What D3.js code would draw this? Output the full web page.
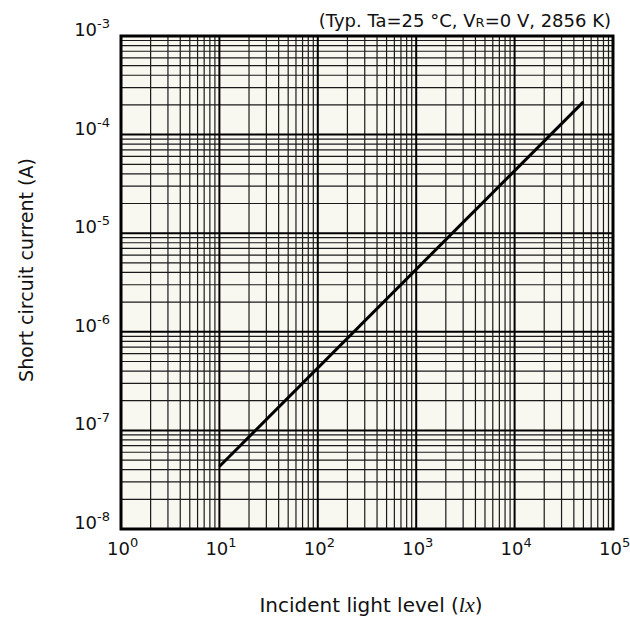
<!DOCTYPE html>
<html>
<head>
<meta charset="utf-8">
<script src="https://cdn.jsdelivr.net/npm/d3@7"></script>
<style>
  body { margin: 0; background: #fff; }
  text { font-family: "DejaVu Sans", Verdana, sans-serif; fill: #111; }
</style>
</head>
<body>
<svg id="chart" width="630" height="626"></svg>
<script>
// data
var lightLevel = [10, 50000];            // lx
var shortCurrent = [4.3e-8, 2.15e-4];    // A
var xDecades = [0, 1, 2, 3, 4, 5];
var yDecades = [-8, -7, -6, -5, -4, -3];
var titleText = "(Typ. Ta=25 °C, V";
var xLabel = "Incident light level (";
var yLabel = "Short circuit current (A)";

var margin = { top: 36, right: 17, bottom: 97, left: 121 }
var width = 630 - margin.left - margin.right
var height = 626 - margin.top - margin.bottom

var svg = d3.select("#chart")
var g = svg.append("g").attr("transform", "translate(" + margin.left + "," + margin.top + ")")

var xScale = d3.scaleLog().domain([1, 1e5]).range([0, width])
var yScale = d3.scaleLog().domain([1e-8, 1e-3]).range([height, 0])

g.append("rect").attr("width", width).attr("height", height).attr("fill", "#f8f7f0")

// minor grid: 2..9 in every decade
function minorTicks(decades) {
  var out = []
  for (var i = 0; i < decades.length - 1; i++) {
    for (var k = 2; k <= 9; k++) out.push(k * Math.pow(10, decades[i]))
  }
  return out
}

g.selectAll(".vminor").data(minorTicks(xDecades)).enter().append("line")
  .attr("x1", d => xScale(d)).attr("x2", d => xScale(d))
  .attr("y1", 0).attr("y2", height)
  .attr("stroke", "#1a1a1a").attr("stroke-width", 1.2)

g.selectAll(".hminor").data(minorTicks(yDecades)).enter().append("line")
  .attr("y1", d => yScale(d)).attr("y2", d => yScale(d))
  .attr("x1", 0).attr("x2", width)
  .attr("stroke", "#1a1a1a").attr("stroke-width", 1.2)

g.selectAll(".vmajor").data(xDecades).enter().append("line")
  .attr("x1", d => xScale(Math.pow(10, d))).attr("x2", d => xScale(Math.pow(10, d)))
  .attr("y1", 0).attr("y2", height)
  .attr("stroke", "#000").attr("stroke-width", 2)

g.selectAll(".hmajor").data(yDecades).enter().append("line")
  .attr("y1", d => yScale(Math.pow(10, d))).attr("y2", d => yScale(Math.pow(10, d)))
  .attr("x1", 0).attr("x2", width)
  .attr("stroke", "#000").attr("stroke-width", 2)

g.append("rect").attr("width", width).attr("height", height)
  .attr("fill", "none").attr("stroke", "#000").attr("stroke-width", 3)

// curve
var line = d3.line().x(d => xScale(d[0])).y(d => yScale(d[1]))
g.append("path")
  .datum(lightLevel.map((v, i) => [v, shortCurrent[i]]))
  .attr("d", line).attr("fill", "none").attr("stroke", "#000").attr("stroke-width", 3)

// tick labels
var xl = g.selectAll(".xl").data(xDecades).enter().append("text")
  .attr("x", d => xScale(Math.pow(10, d)) - 14).attr("y", height + 26)
  .attr("font-family", "DejaVu Sans Condensed").attr("font-size", 18)
xl.append("tspan").text("10")
xl.append("tspan").attr("dy", -8).attr("font-size", 13).text(d => d)

var yl = g.selectAll(".yl").data(yDecades).enter().append("text")
  .attr("x", -11).attr("y", d => yScale(Math.pow(10, d)))
  .attr("text-anchor", "end").attr("font-family", "DejaVu Sans Condensed").attr("font-size", 18)
yl.append("tspan").text("10")
yl.append("tspan").attr("dy", -8).attr("font-size", 13).text(d => d)

// title
var t = svg.append("text").attr("x", 611).attr("y", 27).attr("text-anchor", "end").attr("font-size", 18)
t.append("tspan").text(titleText)
t.append("tspan").attr("font-size", 13).text("R")
t.append("tspan").text("=0 V, 2856 K)")

// axis titles
var xt = svg.append("text").attr("x", 371).attr("y", 612)
  .attr("text-anchor", "middle").attr("font-size", 20)
xt.append("tspan").text(xLabel)
xt.append("tspan").attr("font-family", "Liberation Serif, serif").attr("font-style", "italic").attr("font-size", 22).text("lx")
xt.append("tspan").text(")")

svg.append("text").attr("transform", "translate(33,270) rotate(-90)")
  .attr("text-anchor", "middle").attr("font-size", 19).text(yLabel)
</script>
</body>
</html>
